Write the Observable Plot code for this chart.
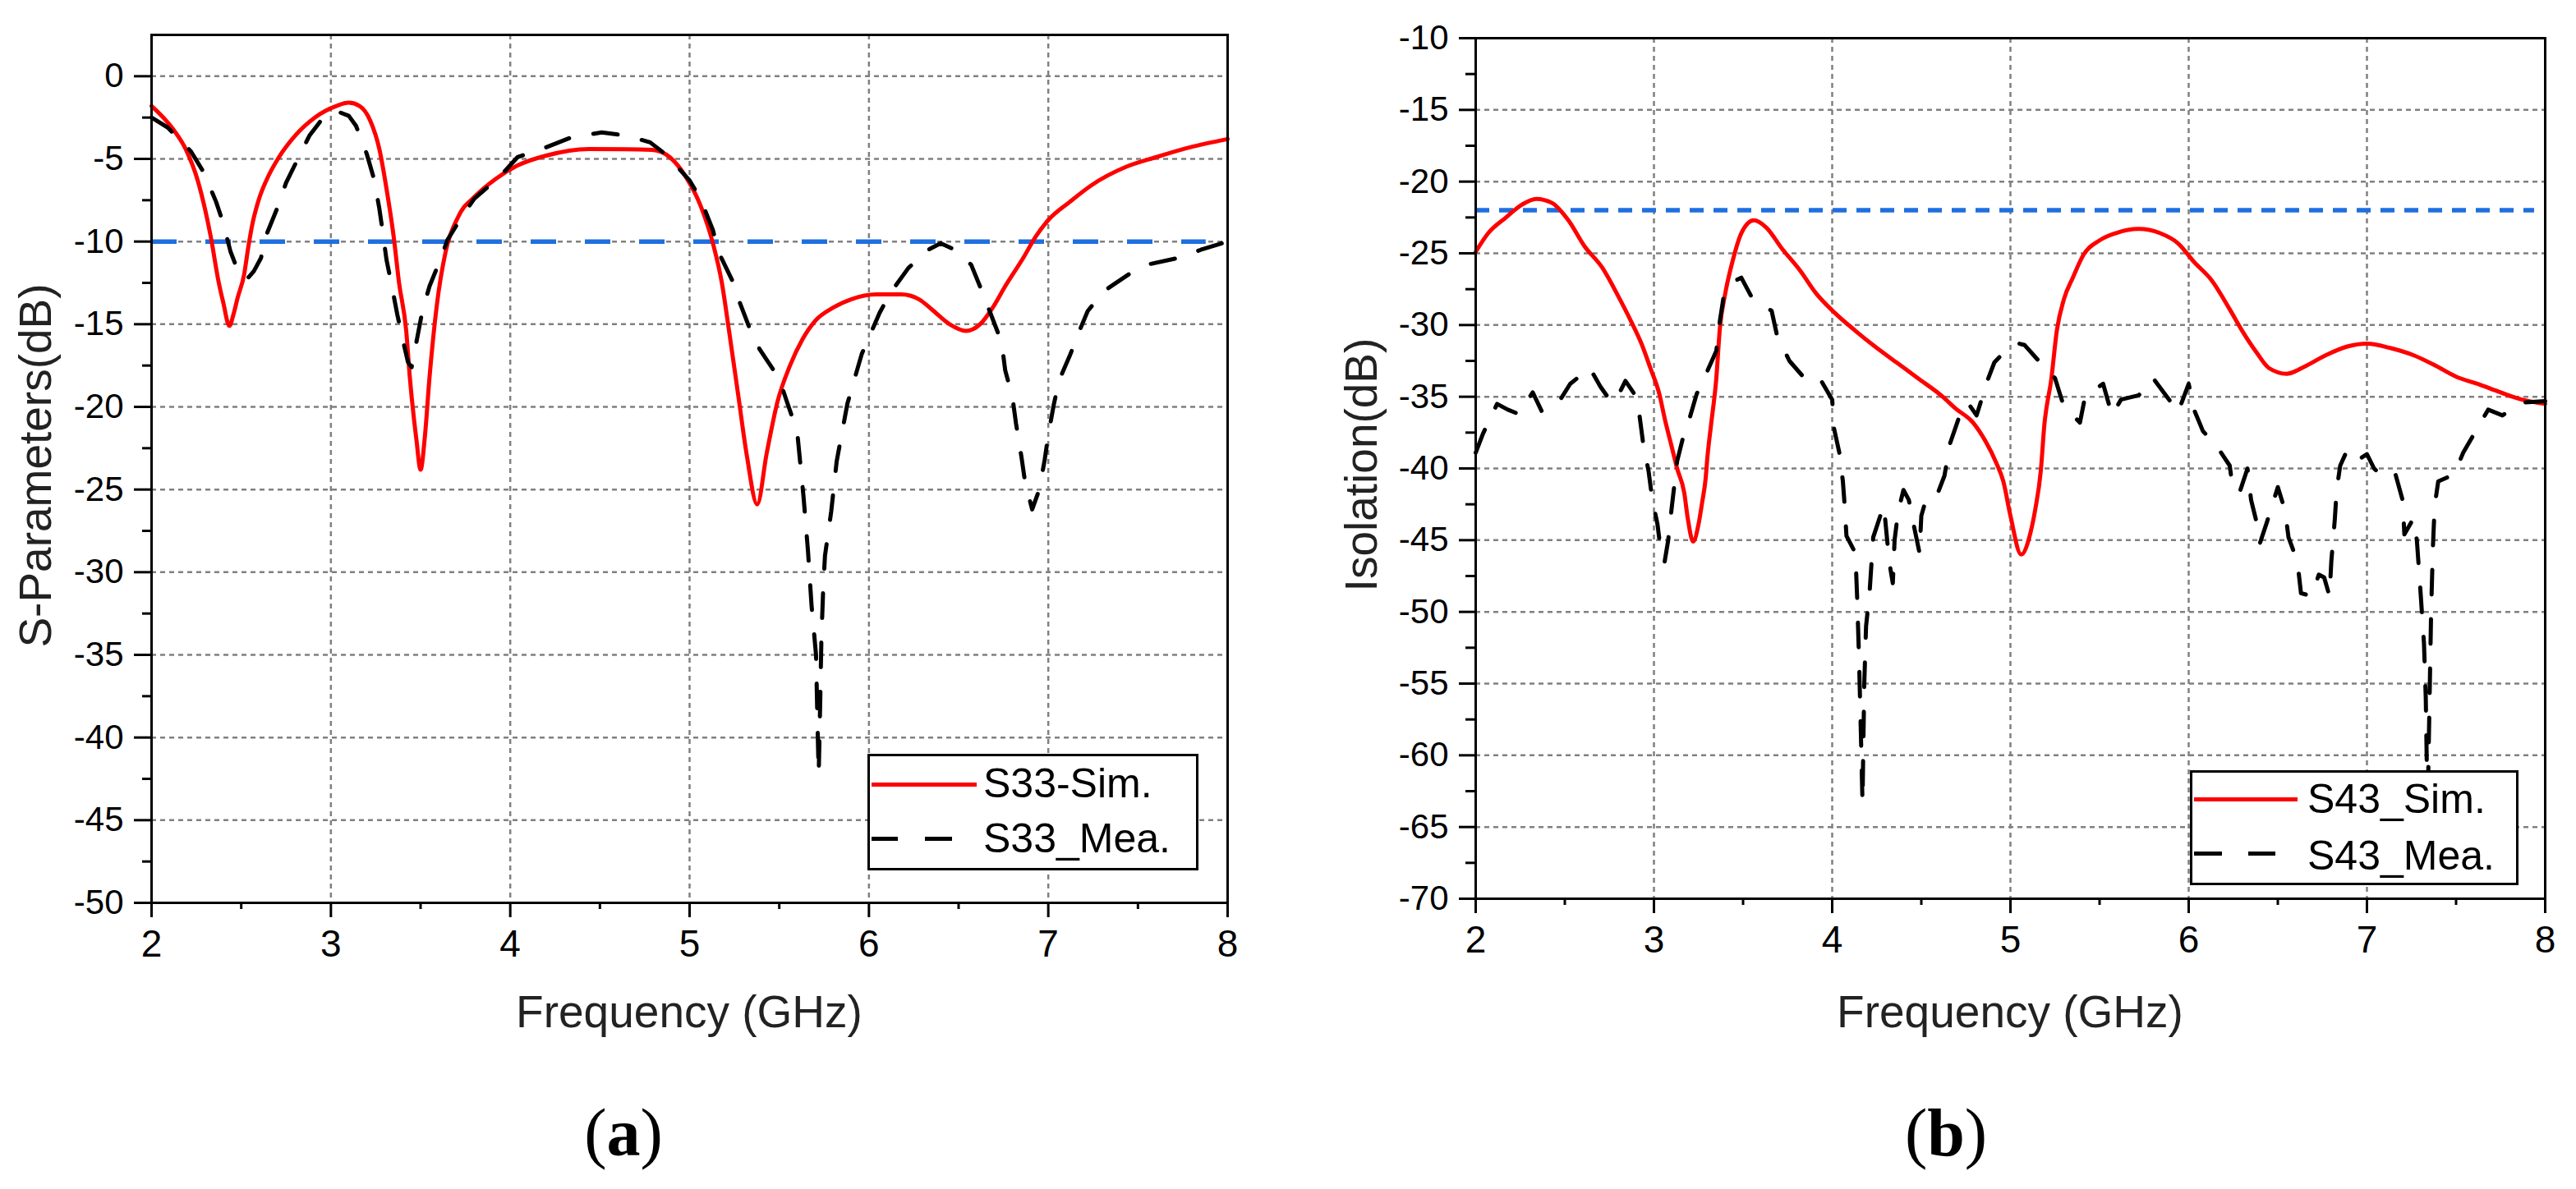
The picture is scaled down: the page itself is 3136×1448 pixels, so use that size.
<!DOCTYPE html>
<html>
<head>
<meta charset="utf-8">
<script src="https://cdn.jsdelivr.net/npm/d3@7"></script>
<script src="https://cdn.jsdelivr.net/npm/@observablehq/plot@0.6"></script>
<style>
  html, body { margin: 0; padding: 0; background: #fff; }
  body { width: 3136px; height: 1448px; position: relative; overflow: hidden;
         font-family: "Liberation Sans", Arial, sans-serif; color: #000; }
  .abs { position: absolute; white-space: nowrap; line-height: 1; }
  .title { font-size: 55px; color: #222; }
  .cap { font-family: "Liberation Serif", "Times New Roman", serif; font-size: 82px; }
  .cap b { font-weight: bold; }
  .legbox { position: absolute; box-sizing: border-box; border: 3px solid #000; background: #fff; }
  .legtxt { position: absolute; white-space: nowrap; line-height: 1; font-size: 50px; color: #000; }
  .sw { position: absolute; height: 5px; }
</style>
</head>
<body>
<div id="left" class="abs" style="left:0;top:0"></div>
<div id="right" class="abs" style="left:1568px;top:0"></div>

<!-- axis titles -->
<div class="abs title" style="left:43px;top:567px;transform:translate(-50%,-50%) rotate(-90deg);">S-Parameters(dB)</div>
<div class="abs title" style="left:1657px;top:566px;transform:translate(-50%,-50%) rotate(-90deg);">Isolation(dB)</div>
<div class="abs title" style="left:839px;top:1205px;transform:translateX(-50%);">Frequency (GHz)</div>
<div class="abs title" style="left:2447px;top:1205px;transform:translateX(-50%);">Frequency (GHz)</div>

<!-- captions -->
<div class="abs cap" style="left:759px;top:1339px;transform:translateX(-50%);">(<b>a</b>)</div>
<div class="abs cap" style="left:2369px;top:1339px;transform:translateX(-50%);">(<b>b</b>)</div>

<!-- legends -->
<div class="legbox" style="left:1056px;top:918px;width:403px;height:142px;"></div>
<div class="sw" style="left:1061px;top:953px;width:128px;background:#ff0000;"></div>
<div class="legtxt" style="left:1197px;top:929px;">S33-Sim.</div>
<div class="sw" style="left:1061px;top:1019px;width:32px;background:#000;"></div>
<div class="sw" style="left:1126px;top:1019px;width:33px;background:#000;"></div>
<div class="legtxt" style="left:1197px;top:996px;">S33_Mea.</div>

<div class="legbox" style="left:2666px;top:938px;width:400px;height:140px;"></div>
<div class="sw" style="left:2671px;top:971px;width:126px;background:#ff0000;"></div>
<div class="legtxt" style="left:2809px;top:948px;">S43_Sim.</div>
<div class="sw" style="left:2671px;top:1037px;width:34px;background:#000;"></div>
<div class="sw" style="left:2737px;top:1037px;width:33px;background:#000;"></div>
<div class="legtxt" style="left:2809px;top:1017px;">S43_Mea.</div>

<script>
// ---------- axis ticks ----------
const freqTicks = [2, 3, 4, 5, 6, 7, 8];
const freqMinorTicks = [2.5, 3.5, 4.5, 5.5, 6.5, 7.5];
const freqGrid = [3, 4, 5, 6, 7];

const s33Ticks = [0, -5, -10, -15, -20, -25, -30, -35, -40, -45, -50];
const s33MinorTicks = [-2.5, -7.5, -12.5, -17.5, -22.5, -27.5, -32.5, -37.5, -42.5, -47.5];
const s33Grid = [0, -5, -10, -15, -20, -25, -30, -35, -40, -45];

const s43Ticks = [-10, -15, -20, -25, -30, -35, -40, -45, -50, -55, -60, -65, -70];
const s43MinorTicks = [-12.5, -17.5, -22.5, -27.5, -32.5, -37.5, -42.5, -47.5, -52.5, -57.5, -62.5, -67.5];
const s43Grid = [-15, -20, -25, -30, -35, -40, -45, -50, -55, -60, -65];

// reference levels
const s33Limit = -10;
const s43Limit = -22;

// ---------- (a) S33 simulated ----------
const s33SimFreq = [2.00,2.12,2.19,2.26,2.33,2.375,2.40,2.434,2.457,2.48,2.516,2.54,2.563,2.60,2.64,2.71,2.80,2.91,3.03,3.10,3.16,3.22,3.27,3.31,3.35,3.38,3.42,3.44,3.477,3.50,3.524,3.55,3.59,3.64,3.71,3.81,3.92,4.04,4.20,4.44,4.79,4.89,4.98,5.06,5.13,5.18,5.22,5.27,5.32,5.377,5.43,5.49,5.56,5.63,5.70,5.80,5.90,6.04,6.18,6.28,6.35,6.45,6.54,6.62,6.69,6.76,6.86,6.93,7.00,7.12,7.24,7.43,7.60,7.79,8.00];
const s33SimDb = [-1.8,-3.2,-4.4,-6.4,-9.7,-12.5,-13.7,-15.1,-14.4,-13.4,-12.0,-10.3,-8.9,-7.4,-6.3,-4.9,-3.6,-2.5,-1.8,-1.6,-1.8,-2.7,-4.4,-6.8,-9.7,-12.5,-15.4,-18.2,-22.0,-23.8,-21.8,-18.2,-13.9,-10.6,-8.5,-7.2,-6.2,-5.4,-4.8,-4.4,-4.45,-4.9,-6.1,-7.8,-10.1,-12.5,-15.4,-19.2,-23.0,-25.9,-22.8,-19.7,-17.5,-15.9,-14.8,-14.0,-13.5,-13.2,-13.2,-13.5,-14.1,-15.0,-15.4,-15.0,-14.0,-12.7,-11.0,-9.7,-8.7,-7.6,-6.6,-5.5,-4.9,-4.3,-3.8];

// ---------- (a) S33 measured ----------
const s33MeaFreq = [2.00,2.09,2.22,2.29,2.36,2.40,2.44,2.49,2.53,2.57,2.61,2.64,2.70,2.75,2.82,2.88,2.95,3.03,3.10,3.14,3.20,3.24,3.27,3.29,3.31,3.34,3.37,3.40,3.43,3.45,3.48,3.51,3.55,3.61,3.65,3.73,3.80,3.94,4.04,4.20,4.34,4.51,4.65,4.78,4.87,5.00,5.06,5.13,5.16,5.24,5.28,5.34,5.39,5.50,5.54,5.60,5.635,5.66,5.68,5.705,5.715,5.72,5.728,5.735,5.745,5.755,5.79,5.82,5.88,5.96,6.06,6.12,6.22,6.33,6.40,6.46,6.57,6.63,6.68,6.74,6.76,6.80,6.82,6.85,6.87,6.91,6.95,6.98,7.00,7.03,7.06,7.12,7.17,7.22,7.31,7.46,7.55,7.72,7.85,8.00];
const s33MeaDb = [-2.5,-3.1,-4.55,-5.8,-7.6,-8.9,-10.6,-12.0,-12.3,-11.8,-11.0,-9.6,-8.0,-6.45,-4.9,-3.6,-2.6,-2.1,-2.4,-3.0,-4.7,-6.2,-8.0,-9.5,-11.1,-12.7,-14.4,-15.9,-17.3,-17.6,-15.9,-14.2,-12.7,-11.1,-9.9,-8.5,-7.4,-6.1,-4.9,-4.3,-3.7,-3.4,-3.6,-4.0,-4.75,-6.3,-7.4,-9.3,-10.6,-12.4,-13.7,-15.4,-16.5,-18.3,-19.6,-21.5,-25.4,-28.7,-32.0,-35.0,-40.0,-42.2,-38.0,-34.0,-31.0,-29.0,-26.3,-23.3,-19.8,-16.8,-14.3,-13.1,-11.6,-10.5,-10.1,-10.4,-11.4,-13.0,-14.4,-16.1,-17.8,-19.4,-21.0,-23.0,-24.5,-26.2,-25.0,-23.2,-21.7,-19.9,-18.4,-16.9,-15.5,-14.2,-13.0,-11.9,-11.4,-11.0,-10.5,-10.0];

// ---------- (b) S43 simulated ----------
const s43SimFreq = [2.00,2.07,2.17,2.26,2.34,2.43,2.52,2.61,2.71,2.80,2.87,2.93,2.98,3.03,3.06,3.10,3.13,3.17,3.19,3.22,3.25,3.27,3.29,3.30,3.32,3.35,3.37,3.40,3.44,3.49,3.56,3.63,3.72,3.82,3.91,4.01,4.13,4.24,4.36,4.48,4.62,4.69,4.79,4.86,4.92,4.96,5.00,5.06,5.11,5.14,5.17,5.19,5.23,5.26,5.30,5.35,5.41,5.50,5.59,5.72,5.84,5.94,6.03,6.13,6.23,6.30,6.38,6.45,6.55,6.65,6.77,6.89,7.00,7.13,7.26,7.38,7.50,7.62,7.75,7.87,8.00];
const s43SimDb = [-24.9,-23.6,-22.5,-21.6,-21.2,-21.5,-22.7,-24.5,-26.0,-28.0,-29.7,-31.3,-33.0,-34.8,-36.5,-38.5,-40.0,-41.7,-43.5,-45.1,-43.9,-42.4,-40.7,-39.2,-37.0,-33.7,-30.2,-27.8,-25.6,-23.6,-22.7,-23.2,-24.7,-26.2,-27.8,-29.1,-30.4,-31.5,-32.6,-33.7,-35.0,-35.8,-36.8,-38.1,-39.6,-40.9,-43.3,-46.0,-44.6,-42.8,-40.2,-37.0,-33.7,-30.4,-28.2,-26.7,-25.1,-24.1,-23.6,-23.3,-23.6,-24.3,-25.6,-26.9,-28.9,-30.4,-31.9,-33.0,-33.4,-32.9,-32.1,-31.5,-31.3,-31.6,-32.1,-32.8,-33.6,-34.1,-34.7,-35.2,-35.5];

// ---------- (b) S43 measured ----------
const s43MeaFreq = [2.00,2.04,2.12,2.18,2.24,2.32,2.37,2.42,2.47,2.53,2.59,2.64,2.70,2.74,2.78,2.84,2.89,2.92,2.94,2.97,2.99,3.02,3.04,3.06,3.08,3.10,3.13,3.16,3.20,3.24,3.30,3.35,3.37,3.39,3.44,3.49,3.55,3.60,3.66,3.69,3.76,3.83,3.88,3.92,4.00,4.01,4.04,4.06,4.07,4.08,4.13,4.14,4.15,4.16,4.17,4.175,4.18,4.19,4.21,4.23,4.27,4.29,4.32,4.34,4.35,4.37,4.40,4.43,4.46,4.49,4.50,4.53,4.59,4.63,4.66,4.71,4.76,4.81,4.87,4.91,4.98,5.05,5.08,5.18,5.25,5.30,5.39,5.42,5.52,5.57,5.62,5.72,5.80,5.89,5.94,6.00,6.03,6.08,6.16,6.23,6.25,6.29,6.33,6.35,6.38,6.40,6.44,6.50,6.54,6.56,6.61,6.63,6.69,6.73,6.76,6.79,6.80,6.82,6.83,6.85,6.89,6.95,7.00,7.04,7.10,7.16,7.20,7.21,7.26,7.28,7.30,7.32,7.33,7.335,7.34,7.35,7.36,7.37,7.38,7.40,7.49,7.54,7.61,7.68,7.76,7.87,8.00];
const s43MeaDb = [-38.9,-37.6,-35.5,-35.9,-36.2,-34.7,-36.0,-35.8,-35.3,-34.1,-33.5,-33.0,-34.3,-35.0,-35.4,-33.9,-34.8,-36.4,-38.3,-40.2,-42.1,-43.9,-45.9,-46.5,-45.0,-42.7,-39.5,-38.0,-36.5,-34.8,-33.2,-31.8,-29.7,-28.1,-27.0,-26.7,-28.1,-28.6,-29.0,-30.7,-32.5,-33.5,-33.4,-33.5,-35.2,-37.2,-38.9,-40.9,-42.6,-44.7,-45.9,-49.0,-53.0,-58.0,-63.3,-59.0,-55.0,-51.0,-48.6,-44.8,-43.3,-42.6,-46.5,-48.0,-45.0,-43.0,-41.5,-42.2,-44.1,-45.9,-43.3,-42.0,-41.8,-40.5,-38.3,-36.5,-35.4,-36.3,-33.9,-32.6,-31.7,-31.3,-31.4,-32.8,-33.7,-35.7,-36.8,-34.9,-34.1,-36.3,-35.2,-34.9,-33.7,-35.2,-36.1,-34.1,-35.9,-37.4,-38.5,-39.8,-41.6,-41.5,-40.0,-42.2,-43.7,-45.2,-43.7,-41.3,-42.9,-44.8,-46.5,-48.7,-48.9,-47.4,-47.6,-48.9,-46.5,-43.5,-41.5,-39.8,-38.7,-39.4,-39.0,-40.0,-40.7,-40.4,-42.2,-44.6,-43.5,-45.0,-48.5,-52.2,-56.0,-60.0,-64.0,-57.0,-50.0,-45.5,-42.6,-40.9,-40.4,-38.9,-37.4,-35.9,-36.3,-35.4,-35.3];

// ---------- drawing ----------
const RED = "#ff0000", BLUE = "#1e6fe0", GRID = "#808080";

function toRows(fs, ds) { return fs.map((f, i) => ({f, db: ds[i]})); }

function panel(o) {
  const sim = toRows(o.simF, o.simD);
  const mea = toRows(o.meaF, o.meaD);
  return Plot.plot({
    width: 1568, height: 1300,
    marginLeft: o.ml, marginRight: o.mr, marginTop: o.mt, marginBottom: o.mb,
    style: {fontFamily: '"Liberation Sans", Arial, sans-serif', background: "transparent", color: "#000", overflow: "visible"},
    x: {domain: [2, 8]},
    y: {domain: o.yDomain},
    marks: [
      Plot.gridX({ticks: freqGrid, stroke: GRID, strokeOpacity: 1, strokeWidth: 2.5, strokeDasharray: "6,5"}),
      Plot.gridY({ticks: o.grid, stroke: GRID, strokeOpacity: 1, strokeWidth: 2.5, strokeDasharray: "6,5"}),
      Plot.ruleY([o.limit], {x1: 2, x2: o.limitEnd, stroke: BLUE, strokeWidth: 5.5, strokeDasharray: o.limitDash}),
      Plot.line(sim, {x: "f", y: "db", stroke: RED, strokeWidth: 5, curve: "monotone-x"}),
      Plot.line(mea, {x: "f", y: "db", stroke: "#000", strokeWidth: 5, strokeDasharray: "30,30"}),
      Plot.frame({stroke: "#000", strokeWidth: 3}),
      Plot.axisX({ticks: freqTicks, tickSize: 18, tickPadding: 15, fontSize: 46, strokeWidth: 3, tickFormat: d => String(d), label: null}),
      Plot.axisX({ticks: freqMinorTicks, tickSize: 8, strokeWidth: 3, tickFormat: () => "", label: null}),
      Plot.axisY({ticks: o.yTicks, tickSize: o.yTickSize, tickPadding: 13, fontSize: 42, strokeWidth: 3, tickFormat: d => String(d), label: null}),
      Plot.axisY({ticks: o.yMinor, tickSize: o.yMinorSize, strokeWidth: 3, tickFormat: () => "", label: null})
    ]
  });
}

document.getElementById("left").append(panel({
  ml: 184, mr: 74, mt: 42, mb: 201,
  yDomain: [-50, 2.5], yTicks: s33Ticks, yMinor: s33MinorTicks, grid: s33Grid,
  yTickSize: 21, yMinorSize: 11,
  limit: s33Limit, limitEnd: 7.88, limitDash: "31,35",
  simF: s33SimFreq, simD: s33SimDb, meaF: s33MeaFreq, meaD: s33MeaDb
}));

document.getElementById("right").append(panel({
  ml: 228, mr: 38, mt: 46, mb: 206,
  yDomain: [-70, -10], yTicks: s43Ticks, yMinor: s43MinorTicks, grid: s43Grid,
  yTickSize: 20, yMinorSize: 12,
  limit: s43Limit, limitEnd: 7.94, limitDash: "17,12",
  simF: s43SimFreq, simD: s43SimDb, meaF: s43MeaFreq, meaD: s43MeaDb
}));
</script>
</body>
</html>
